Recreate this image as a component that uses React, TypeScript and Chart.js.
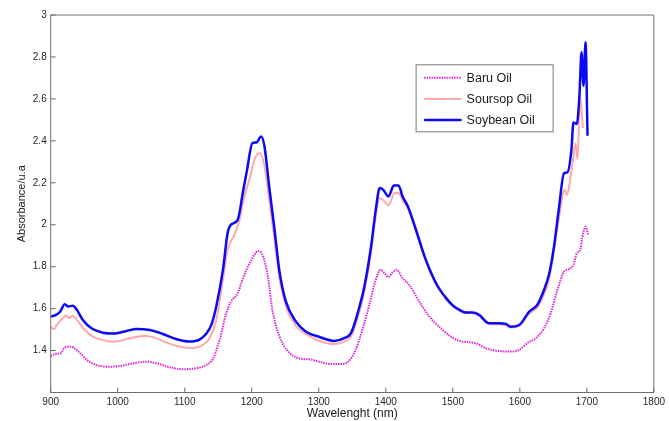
import React, { useEffect, useRef } from "react";
import { Chart, registerables } from "chart.js";

Chart.register(...registerables);

// ---- Data ----
const seriesNames = ["Baru Oil", "Soursop Oil", "Soybean Oil"];

const baruWl = [900,907,915,920,927,934,944,954,968,986,1003,1023,1043,1058,1078,1098,1117,1132,1142,1152,1162,1169,1179,1187,1197,1210,1217,1224,1231,1241,1256,1276,1286,1301,1315,1333,1345,1355,1365,1376,1385,1392,1398,1404,1410,1416,1425,1435,1450,1465,1485,1494,1510,1534,1549,1569,1586,1599,1611,1624,1636,1646,1656,1666,1673,1680,1685,1690,1693,1698,1702];
const baruAbs = [1.374,1.384,1.387,1.411,1.419,1.414,1.387,1.355,1.331,1.323,1.326,1.339,1.347,1.339,1.320,1.311,1.316,1.331,1.360,1.451,1.578,1.633,1.673,1.745,1.817,1.875,1.848,1.753,1.590,1.470,1.390,1.360,1.358,1.347,1.336,1.336,1.350,1.403,1.498,1.626,1.737,1.785,1.769,1.750,1.772,1.785,1.745,1.713,1.633,1.562,1.498,1.474,1.446,1.435,1.411,1.398,1.395,1.403,1.435,1.459,1.506,1.578,1.689,1.777,1.788,1.809,1.864,1.880,1.936,1.991,1.952];

const soursopWl = [900,905,909,918,923,927,933,941,951,963,983,998,1018,1038,1053,1073,1092,1112,1127,1137,1147,1157,1164,1174,1181,1189,1197,1204,1212,1219,1226,1234,1241,1251,1266,1281,1300,1323,1338,1348,1358,1368,1378,1385,1391,1398,1404,1413,1419,1426,1433,1445,1458,1475,1490,1510,1520,1529,1539,1554,1569,1579,1586,1599,1614,1626,1636,1644,1651,1658,1667,1670,1678,1683,1686,1690,1694];
const soursopAbs = [1.514,1.502,1.522,1.554,1.567,1.554,1.565,1.538,1.498,1.466,1.446,1.443,1.459,1.470,1.464,1.438,1.419,1.411,1.427,1.458,1.546,1.737,1.880,1.952,2.015,2.135,2.222,2.310,2.342,2.278,2.119,1.928,1.753,1.610,1.517,1.478,1.447,1.431,1.443,1.466,1.554,1.681,1.864,2.039,2.127,2.111,2.092,2.151,2.151,2.111,2.079,1.968,1.840,1.715,1.645,1.590,1.578,1.580,1.575,1.528,1.525,1.522,1.510,1.518,1.578,1.605,1.668,1.745,1.880,2.023,2.167,2.143,2.278,2.389,2.313,2.612,2.461];

const soybeanWl = [900,908,914,921,926,933,939,948,961,978,993,1013,1028,1048,1068,1088,1107,1122,1132,1140,1147,1157,1164,1169,1179,1187,1193,1201,1207,1214,1219,1226,1234,1241,1251,1266,1281,1300,1323,1338,1348,1358,1368,1378,1385,1391,1396,1404,1412,1419,1425,1433,1445,1458,1475,1490,1500,1510,1520,1529,1539,1554,1569,1579,1586,1599,1614,1626,1636,1644,1651,1658,1666,1671,1677,1680,1685,1689,1692,1695,1698,1701];
const soybeanAbs = [1.562,1.570,1.585,1.621,1.610,1.614,1.594,1.546,1.506,1.485,1.481,1.493,1.503,1.498,1.478,1.454,1.443,1.452,1.480,1.525,1.610,1.785,1.960,2.000,2.023,2.158,2.262,2.389,2.392,2.421,2.373,2.182,1.976,1.785,1.633,1.538,1.490,1.466,1.446,1.459,1.483,1.578,1.705,1.896,2.071,2.175,2.167,2.135,2.187,2.187,2.135,2.087,1.976,1.848,1.721,1.650,1.615,1.594,1.581,1.581,1.570,1.530,1.530,1.527,1.514,1.522,1.586,1.618,1.689,1.769,1.896,2.070,2.246,2.250,2.358,2.488,2.480,2.620,2.822,2.663,2.870,2.424];

const xTickMin = 900;
const xTickMax = 1800;
const xTickStep = 100;
const yTickMin = 1.2;
const yTickMax = 3;
const yTickStep = 0.2;

const FONT = "'Liberation Sans', Arial, Helvetica, sans-serif";

function toPoints(xs: number[], ys: number[]) {
  const n = Math.min(xs.length, ys.length);
  const out: { x: number; y: number }[] = [];
  for (let i = 0; i < n; i++) out.push({ x: xs[i], y: ys[i] });
  return out;
}

const boxAndTicks = {
  id: "boxAndTicks",
  afterDraw(chart: any) {
    const { ctx, chartArea } = chart;
    const { left, right, top, bottom } = chartArea;
    ctx.save();
    ctx.strokeStyle = "#6e6e6e";
    ctx.lineWidth = 1;
    ctx.beginPath();
    ctx.rect(left, top, right - left, bottom - top);
    ctx.stroke();
    const xs = chart.scales.x;
    const ys = chart.scales.y;
    ctx.beginPath();
    xs.ticks.forEach((t: any) => {
      const px = xs.getPixelForValue(t.value);
      ctx.moveTo(px, bottom);
      ctx.lineTo(px, bottom - 5);
    });
    ys.ticks.forEach((t: any) => {
      const py = ys.getPixelForValue(t.value);
      ctx.moveTo(left, py);
      ctx.lineTo(left + 5, py);
    });
    ctx.stroke();
    ctx.restore();
  },
};

const legendBox = {
  id: "legendBox",
  afterDatasetsDraw(chart: any) {
    const { ctx, chartArea } = chart;
    const w = chartArea.right - chartArea.left;
    const h = chartArea.bottom - chartArea.top;
    const bx = chartArea.left + w * 0.605;
    const by = chartArea.top + h * 0.1306;
    const bw = 137;
    const bh = 67;
    ctx.save();
    ctx.fillStyle = "#ffffff";
    ctx.fillRect(bx, by, bw, bh);
    ctx.strokeStyle = "#7a7a7a";
    ctx.lineWidth = 1;
    ctx.strokeRect(bx + 0.5, by + 0.5, bw, bh);
    ctx.font = `12.5px ${FONT}`;
    ctx.textBaseline = "middle";
    ctx.textAlign = "left";
    chart.data.datasets.forEach((ds: any, i: number) => {
      const y = by + 13.4 + i * 21.2;
      ctx.beginPath();
      ctx.strokeStyle = ds.borderColor;
      ctx.lineWidth = ds.borderWidth;
      ctx.setLineDash(ds.borderDash || []);
      ctx.moveTo(bx + 8.5, y);
      ctx.lineTo(bx + 46, y);
      ctx.stroke();
      ctx.setLineDash([]);
      ctx.fillStyle = "#1a1a1a";
      ctx.fillText(ds.label, bx + 51, y + 0.5);
    });
    ctx.restore();
  },
};

export default function App() {
  const canvasRef = useRef<HTMLCanvasElement | null>(null);

  useEffect(() => {
    if (!canvasRef.current) return;
    const chart = new Chart(canvasRef.current, {
      type: "line",
      data: {
        datasets: [
          {
            label: seriesNames[0],
            data: toPoints(baruWl, baruAbs),
            borderColor: "#e028d8",
            borderWidth: 2,
            borderDash: [1.5, 1],
            pointRadius: 0,
            cubicInterpolationMode: "monotone",
            order: 2,
          },
          {
            label: seriesNames[1],
            data: toPoints(soursopWl, soursopAbs),
            borderColor: "#ffa8a8",
            borderWidth: 2,
            pointRadius: 0,
            cubicInterpolationMode: "monotone",
            order: 1,
          },
          {
            label: seriesNames[2],
            data: toPoints(soybeanWl, soybeanAbs),
            borderColor: "#0a0af5",
            borderWidth: 2.5,
            pointRadius: 0,
            cubicInterpolationMode: "monotone",
            order: 0,
          },
        ],
      } as any,
      options: {
        animation: false,
        responsive: false,
        devicePixelRatio: 1,
        layout: { padding: { top: 15, right: 13.5, left: 0, bottom: 0 } },
        plugins: {
          legend: { display: false },
          tooltip: { enabled: false },
        },
        scales: {
          x: {
            type: "linear",
            min: xTickMin,
            max: xTickMax,
            grid: { display: false, drawTicks: false },
            border: { display: false },
            ticks: {
              stepSize: xTickStep,
              padding: 4,
              color: "#262626",
              font: { family: FONT, size: 10 },
              maxRotation: 0,
              autoSkip: false,
              callback: (v: any) => String(v),
            },
            title: {
              display: true,
              text: "Wavelenght (nm)",
              color: "#1a1a1a",
              font: { family: FONT, size: 12 },
              padding: { top: 0, bottom: 0 },
            },
            afterFit: (s: any) => {
              s.height = 28.5;
            },
          },
          y: {
            type: "linear",
            min: yTickMin,
            max: yTickMax,
            grid: { display: false, drawTicks: false },
            border: { display: false },
            ticks: {
              stepSize: yTickStep,
              padding: 4,
              color: "#262626",
              font: { family: FONT, size: 10 },
              autoSkip: false,
              callback: (v: any) => {
                const r = Math.round(Number(v) * 10) / 10;
                return r < 1.3 ? "" : String(r);
              },
            },
            title: {
              display: true,
              text: "Absorbance/u.a",
              color: "#1a1a1a",
              font: { family: FONT, size: 11 },
              padding: { top: 15.5, bottom: 0 },
            },
            afterFit: (s: any) => {
              s.width = 50.7;
            },
          },
        },
      },
      plugins: [boxAndTicks, legendBox],
    });
    return () => chart.destroy();
  }, []);

  return (
    <div style={{ position: "fixed", left: 0, top: 0, width: 669, height: 421, background: "#fff" }}>
      <canvas ref={canvasRef} width={669} height={421} style={{ width: 669, height: 421, display: "block" }} />
    </div>
  );
}
